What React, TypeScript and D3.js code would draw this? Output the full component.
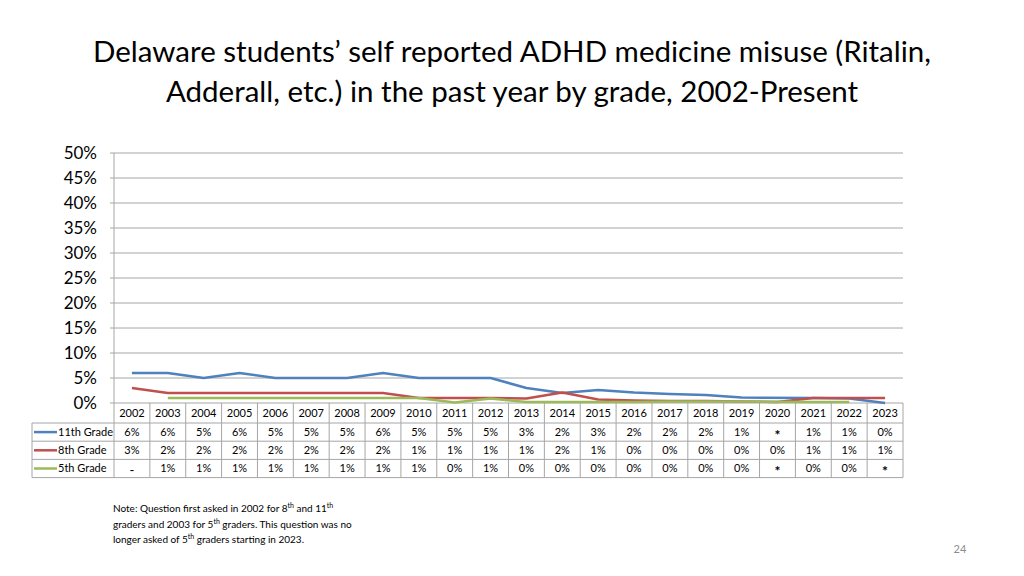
import React, { useRef, useEffect } from 'react';
import * as d3 from 'd3';

// years along the category axis
const years = ['2002', '2003', '2004', '2005', '2006', '2007', '2008', '2009', '2010', '2011', '2012',
  '2013', '2014', '2015', '2016', '2017', '2018', '2019', '2020', '2021', '2022', '2023'];

// plotted values (percent), null = not reported
const grade11 = [6, 6, 5, 6, 5, 5, 5, 6, 5, 5, 5, 3, 2.0, 2.6, 2.1, 1.8, 1.6, 1.1, null, 1.0, 0.9, 0];
const grade8 = [3, 2, 2, 2, 2, 2, 2, 2, 1, 1, 1, 0.9, 2.1, 0.7, 0.5, 0.4, 0.4, 0.3, 0.2, 1.0, 1.0, 1.0];
const grade5 = [null, 1, 1, 1, 1, 1, 1, 1, 1, 0.1, 0.9, 0.2, 0.2, 0.2, 0.2, 0.3, 0.3, 0.3, null, 0.2, 0.2, null];

// data table text
const label11 = ['6%', '6%', '5%', '6%', '5%', '5%', '5%', '6%', '5%', '5%', '5%', '3%', '2%', '3%', '2%', '2%', '2%', '1%', '*', '1%', '1%', '0%'];
const label8 = ['3%', '2%', '2%', '2%', '2%', '2%', '2%', '2%', '1%', '1%', '1%', '1%', '2%', '1%', '0%', '0%', '0%', '0%', '0%', '1%', '1%', '1%'];
const label5 = ['-', '1%', '1%', '1%', '1%', '1%', '1%', '1%', '1%', '0%', '1%', '0%', '0%', '0%', '0%', '0%', '0%', '0%', '*', '0%', '0%', '*'];

const yTicks = [0, 5, 10, 15, 20, 25, 30, 35, 40, 45, 50];

const series = [
  { name: '11th Grade', values: grade11, labels: label11, color: '#4F81BD' },
  { name: '8th Grade', values: grade8, labels: label8, color: '#C0504D' },
  { name: '5th Grade', values: grade5, labels: label5, color: '#9BBB59' },
];

const FONT = 'Lato, "Open Sans", sans-serif';

const App = () => {
  const ref = useRef<SVGSVGElement>(null);

  useEffect(() => {
    const svg = d3.select(ref.current);
    svg.selectAll('*').remove();

    const left = 114, right = 903, top = 153, bottom = 403;
    const x = d3.scaleBand().domain(years).range([left, right]);
    const y = d3.scaleLinear().domain([0, 50]).range([bottom, top]);
    const grid = '#a6a6a6';

    // title
    const title = svg.append('text')
      .attr('text-anchor', 'middle')
      .style('font-family', FONT)
      .style('font-size', '29.5px')
      .attr('fill', '#000');
    title.append('tspan').attr('x', 512).attr('y', 62)
      .text('Delaware students’ self reported ADHD medicine misuse (Ritalin,');
    title.append('tspan').attr('x', 512).attr('y', 102)
      .text('Adderall, etc.) in the past year by grade, 2002-Present');

    // gridlines
    svg.append('g').selectAll('line')
      .data(yTicks)
      .join('line')
      .attr('x1', left - 4).attr('x2', right)
      .attr('y1', d => y(d)).attr('y2', d => y(d))
      .attr('stroke', grid).attr('stroke-width', 1);

    svg.append('line')
      .attr('x1', left).attr('x2', left)
      .attr('y1', top).attr('y2', bottom)
      .attr('stroke', grid);

    svg.append('g').selectAll('text')
      .data(yTicks)
      .join('text')
      .attr('x', 97).attr('y', d => y(d) + 6)
      .attr('text-anchor', 'end')
      .style('font-family', FONT).style('font-size', '17px')
      .text(d => d + '%');

    // lines
    const line = d3.line<[string, number | null]>()
      .x(d => (x(d[0]) as number) + x.bandwidth() / 2)
      .y(d => y(d[1] as number));

    series.forEach(s => {
      const pts = years.map((yr, i) => [yr, s.values[i]] as [string, number | null])
        .filter(d => d[1] !== null);
      svg.append('path')
        .attr('d', line(pts))
        .attr('fill', 'none')
        .attr('stroke', s.color)
        .attr('stroke-width', 2.5)
        .attr('stroke-linejoin', 'round');
    });

    // data table
    const tLeft = 32, headerBottom = 423, rowH = 18.2;
    const t = svg.append('g');
    years.forEach(yr => {
      const x0 = x(yr) as number;
      t.append('line').attr('x1', x0).attr('x2', x0).attr('y1', bottom).attr('y2', headerBottom + rowH * 3)
        .attr('stroke', grid);
      t.append('text')
        .attr('x', x0 + x.bandwidth() / 2).attr('y', bottom + 14)
        .attr('text-anchor', 'middle')
        .style('font-family', FONT).style('font-size', '11px')
        .text(yr);
    });
    t.append('line').attr('x1', right).attr('x2', right).attr('y1', bottom).attr('y2', headerBottom + rowH * 3)
      .attr('stroke', grid);
    t.append('line').attr('x1', tLeft).attr('x2', tLeft).attr('y1', headerBottom).attr('y2', headerBottom + rowH * 3)
      .attr('stroke', grid);
    [0, 1, 2, 3].forEach(i => {
      t.append('line')
        .attr('x1', tLeft).attr('x2', right)
        .attr('y1', headerBottom + rowH * i).attr('y2', headerBottom + rowH * i)
        .attr('stroke', grid);
    });

    series.forEach((s, i) => {
      const ry = headerBottom + rowH * i;
      t.append('line')
        .attr('x1', 34).attr('x2', 57)
        .attr('y1', ry + rowH / 2).attr('y2', ry + rowH / 2)
        .attr('stroke', s.color).attr('stroke-width', 2.5);
      t.append('text')
        .attr('x', 58).attr('y', ry + 13)
        .style('font-family', FONT).style('font-size', '11px')
        .text(s.name);
      s.labels.forEach((lab, j) => {
        const star = lab === '*';
        const dash = lab === '-';
        t.append('text')
          .attr('x', (x(years[j]) as number) + x.bandwidth() / 2)
          .attr('y', ry + (star ? 16.5 : dash ? 16 : 13))
          .attr('text-anchor', 'middle')
          .style('font-family', FONT)
          .style('font-size', star ? '14px' : dash ? '13px' : '11px')
          .style('font-weight', star ? 'bold' : 'normal')
          .text(lab);
      });
    });

    // note
    const note = svg.append('g')
      .style('font-family', FONT).style('font-size', '10px');
    const noteLines = [
      [['Note: Question first asked in 2002 for 8', ''], ['th', 'sup'], [' and 11', ''], ['th', 'sup']],
      [['graders and 2003 for 5', ''], ['th', 'sup'], [' graders. This question was no', '']],
      [['longer asked of 5', ''], ['th', 'sup'], [' graders starting in 2023.', '']],
    ];
    noteLines.forEach((parts, i) => {
      const tx = note.append('text').attr('x', 113).attr('y', 512 + i * 15.5);
      parts.forEach(([txt, kind]) => {
        const sp = tx.append('tspan').text(txt);
        if (kind === 'sup') sp.attr('dy', -4).style('font-size', '7px');
        else if (tx.selectAll('tspan').size() > 1) sp.attr('dy', 4);
      });
    });

    svg.append('text')
      .attr('x', 960).attr('y', 553)
      .attr('text-anchor', 'middle')
      .style('font-family', FONT).style('font-size', '11px')
      .attr('fill', '#8c8c8c')
      .text('24');
  }, []);

  return (
    <div style={{ position: 'absolute', left: 0, top: 0 }}>
      <svg ref={ref} width={1024} height={576} style={{ display: 'block', background: '#fff' }} />
    </div>
  );
};

export default App;
